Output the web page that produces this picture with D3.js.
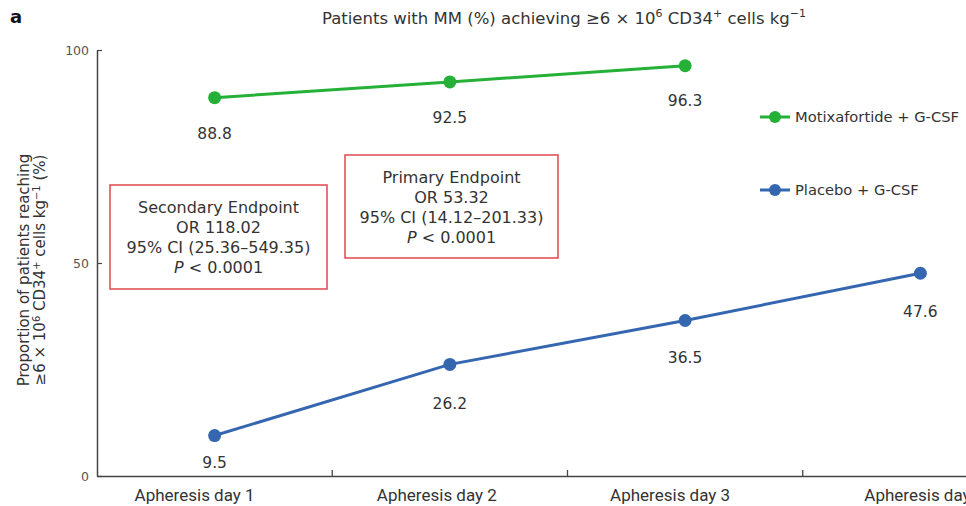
<!DOCTYPE html>
<html>
<head>
<meta charset="utf-8">
<script src="https://cdn.jsdelivr.net/npm/d3@7"></script>
<style>
  body { margin: 0; background: #fff; }
  text { font-family: "DejaVu Sans", "Noto Sans", sans-serif; fill: #333; }
</style>
</head>
<body>
<div id="chart"></div>
<script>
// data
var days = ["Apheresis day 1", "Apheresis day 2", "Apheresis day 3", "Apheresis day 4"];
var motixa = [88.8, 92.5, 96.3];
var placebo = [9.5, 26.2, 36.5, 47.6];
var yTicks = [0, 50, 100];
var seriesNames = ["Motixafortide + G-CSF", "Placebo + G-CSF"];
var secondaryBox = ["Secondary Endpoint", "OR 118.02", "95% CI (25.36\u2013549.35)", "P < 0.0001"];
var primaryBox = ["Primary Endpoint", "OR 53.32", "95% CI (14.12\u2013201.33)", "P < 0.0001"];

var W = 966, H = 506;
var margin = {top: 50, right: 0, bottom: 30, left: 97};
var width = W - margin.left - margin.right,
    height = H - margin.top - margin.bottom;

var svg = d3.select("#chart").append("svg")
    .attr("width", W).attr("height", H);

var g = svg.append("g")
    .attr("transform", "translate(" + margin.left + "," + margin.top + ")");

var green = "#25b037", blue = "#3566b0", red = "#e0474c";

// x is a band scale, 4th band runs off the right edge
var x = d3.scaleBand().domain(days).range([0, 941]);
var y = d3.scaleLinear().domain([0, 100]).range([height, 0]);
var cx = function(i) { return x(days[i]) + x.bandwidth() / 2; };

// axes
var yAxis = g.append("g").call(d3.axisLeft(y).tickValues(yTicks).tickSize(5).tickSizeOuter(0));
yAxis.select(".domain").attr("stroke", "#444").attr("stroke-width", 1.5);
yAxis.selectAll(".tick line").attr("x1", 0).attr("x2", 5).attr("stroke", "#444").attr("stroke-width", 1.2);
yAxis.selectAll(".tick text").attr("x", -8).style("font-size", "12.5px").style("fill", "#555");

var labelShift = [-20, -13, -15, 4];   // labels sit a bit off the band centres in the original
var xAxis = g.append("g").attr("transform", "translate(0," + height + ")")
  .call(d3.axisBottom(x).tickSize(0).tickSizeOuter(0));
xAxis.select(".domain").attr("stroke", "#444").attr("stroke-width", 1.5);
xAxis.selectAll(".tick text").attr("y", 13).attr("dx", function(d, i) { return labelShift[i]; })
  .style("font-family", "Roboto, sans-serif")
  .style("font-size", "17px").style("fill", "#333");
// boundary ticks between bands
g.selectAll(".btick").data(days.slice(1)).enter().append("line")
  .attr("x1", function(d) { return x(d); }).attr("x2", function(d) { return x(d); })
  .attr("y1", height).attr("y2", height - 6)
  .attr("stroke", "#444").attr("stroke-width", 1.3);

// lines
var line = d3.line().x(function(d, i) { return cx(i); }).y(function(d) { return y(d); });

function drawSeries(vals, color, labelDy) {
  g.append("path").datum(vals).attr("d", line)
    .attr("fill", "none").attr("stroke", color).attr("stroke-width", 3);
  g.selectAll(null).data(vals).enter().append("circle")
    .attr("cx", function(d, i) { return cx(i); })
    .attr("cy", function(d) { return y(d); })
    .attr("r", 6.5).attr("fill", color);
  g.selectAll(null).data(vals).enter().append("text")
    .attr("x", function(d, i) { return cx(i); })
    .attr("y", function(d, i) { return y(d) + labelDy[i]; })
    .attr("text-anchor", "middle")
    .style("font-size", "15.5px")
    .text(function(d) { return d.toFixed(1); });
}
drawSeries(motixa, green, [41, 41, 40]);
drawSeries(placebo, blue, [32, 45, 42, 44]);

// annotation boxes
function drawBox(lines, x0, y0, w, h) {
  svg.append("rect").attr("x", x0).attr("y", y0).attr("width", w).attr("height", h)
    .attr("fill", "#fff").attr("stroke", red).attr("stroke-width", 1.5);
  var t = svg.append("text").attr("text-anchor", "middle").style("font-size", "16px");
  lines.forEach(function(l, i) {
    var ts = t.append("tspan").attr("x", x0 + w / 2).attr("y", y0 + 28 + i * 20);
    if (l.indexOf("P ") === 0) {
      ts.append("tspan").style("font-style", "italic").text("P");
      ts.append("tspan").text(l.slice(1));
    } else ts.text(l);
  });
}
drawBox(secondaryBox, 110, 185, 217, 104);
drawBox(primaryBox, 345, 155, 213, 103);

// legend
var leg = svg.append("g");
[green, blue].forEach(function(c, i) {
  var ly = 117 + i * 73;
  leg.append("line").attr("x1", 760).attr("x2", 790).attr("y1", ly).attr("y2", ly)
    .attr("stroke", c).attr("stroke-width", 3);
  leg.append("circle").attr("cx", 775).attr("cy", ly).attr("r", 6).attr("fill", c);
  leg.append("text").attr("x", 795).attr("y", ly + 5).style("font-size", "14.7px").text(seriesNames[i]);
});

// title
var title = svg.append("text").attr("x", 564).attr("y", 24).attr("text-anchor", "middle").style("font-size", "16.5px");
title.append("tspan").text("Patients with MM (%) achieving \u22656 \u00d7 10");
title.append("tspan").attr("dy", -7).style("font-size", "11px").text("6");
title.append("tspan").attr("dy", 7).text(" CD34");
title.append("tspan").attr("dy", -7).style("font-size", "11px").text("+");
title.append("tspan").attr("dy", 7).text(" cells kg");
title.append("tspan").attr("dy", -7).style("font-size", "11px").text("\u22121");

svg.append("text").attr("x", 10).attr("y", 23)
  .style("font-size", "18px").style("font-weight", "bold").style("fill", "#111").text("a");

// y label
var yl = svg.append("text").attr("transform", "translate(29,270) rotate(-90)")
  .attr("text-anchor", "middle").style("font-size", "15px");
yl.append("tspan").attr("x", 0).attr("y", 0).text("Proportion of patients reaching");
var l2 = yl.append("tspan").attr("x", 0).attr("y", 16);
l2.append("tspan").text("\u22656 \u00d7 10");
l2.append("tspan").attr("dy", -5).style("font-size", "10px").text("6");
l2.append("tspan").attr("dy", 5).text(" CD34");
l2.append("tspan").attr("dy", -5).style("font-size", "10px").text("+");
l2.append("tspan").attr("dy", 5).text(" cells kg");
l2.append("tspan").attr("dy", -5).style("font-size", "10px").text("\u22121");
l2.append("tspan").attr("dy", 5).text(" (%)");
</script>
</body>
</html>
